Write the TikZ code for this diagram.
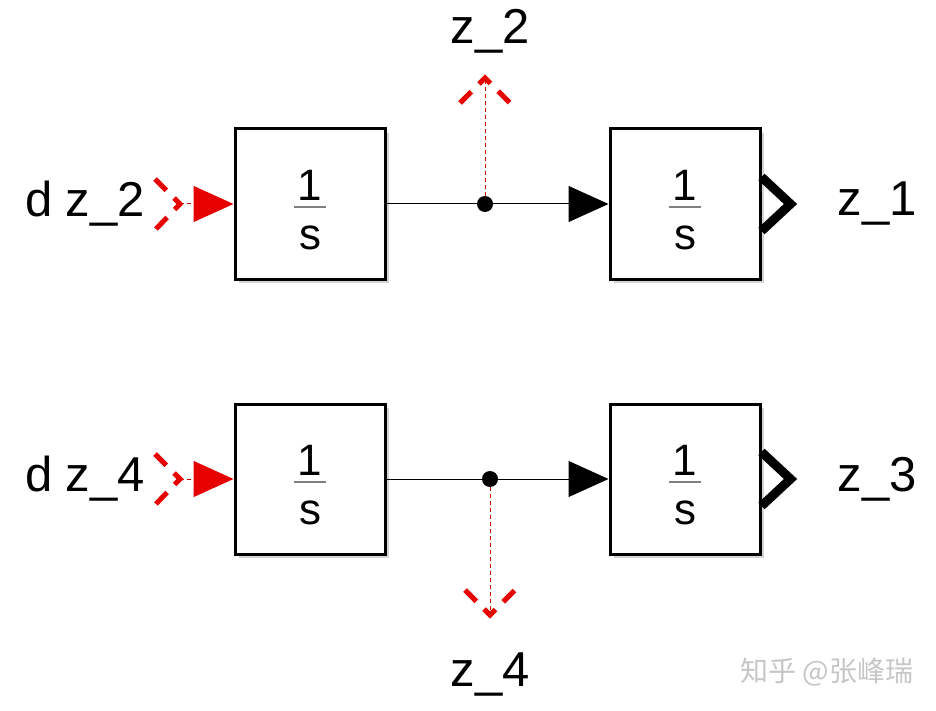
\documentclass[tikz,border=0pt]{standalone}
\usepackage{fontspec}
\setmainfont{Liberation Sans}
\newfontfamily\cjkfont{Noto Sans CJK SC}
\usetikzlibrary{arrows.meta,shadows}
\definecolor{portred}{RGB}{230,0,0}
\definecolor{tapred}{RGB}{200,0,0}

\begin{document}
\begin{tikzpicture}[x=0.5pt,y=-0.5pt,
	block/.style={draw,line width=1.5pt,fill=white,minimum size=75pt,inner sep=0pt,
		drop shadow={opacity=0.35,shadow xshift=2pt,shadow yshift=-2pt}},
	digit/.style={font=\fontsize{22}{26}\selectfont,inner sep=0pt},
	fracbar/.style={gray,line width=0.6pt},
	lab/.style={font=\fontsize{24.5}{28}\selectfont,inner sep=0pt},
	sig/.style={line width=0.5pt,-{Triangle[length=20pt,width=18pt]}},
	inp/.style={tapred,line width=0.5pt,dash pattern=on 2pt off 1.5pt,
		-{Triangle[length=20pt,width=18pt,color=portred,fill=portred]}},
	tap/.style={tapred,line width=0.5pt,dash pattern=on 2pt off 1.5pt},
	portmark/.style={portred,line width=2.5pt,dash pattern=on 8pt off 5.5pt},
	outmark/.style={line width=4.5pt,miter limit=10},
	branch/.style={circle,fill,inner sep=0pt,minimum size=8pt}]
	\useasboundingbox (0,0) rectangle (936,711);
	% blocks
	\path (310,204) node (int1) [block] {}
		  (685,204) node (int2) [block] {}
		  (310,479) node (int3) [block] {}
		  (685,479) node (int4) [block] {};
	% 1/s in each block
	\path (310,185) node [digit] {1} (310,238) node [digit] {s}
		  (685,185) node [digit] {1} (685,238) node [digit] {s}
		  (310,460) node [digit] {1} (310,513) node [digit] {s}
		  (685,460) node [digit] {1} (685,513) node [digit] {s};
	\draw[fracbar] (294,207) -- (326,207);
	\draw[fracbar] (669,207) -- (701,207);
	\draw[fracbar] (294,482) -- (326,482);
	\draw[fracbar] (669,482) -- (701,482);
	% labels
	\path (85,204) node (lin1) [lab] {d z\_2}
		  (85,479) node (lin2) [lab] {d z\_4}
		  (877,204) node (lout1) [lab] {z\_1}
		  (877,479) node (lout2) [lab] {z\_3}
		  (490,31) node (ltap1) [lab] {z\_2}
		  (490,675) node (ltap2) [lab] {z\_4};
	\coordinate (in1) at (180,204);
	\coordinate (in2) at (180,479);
	\coordinate (tp1) at (485,78);
	\coordinate (tp2) at (490,615);
	% signals
	\draw[sig] (int1) -- (int2);
	\draw[sig] (int3) -- (int4);
	\draw[inp] (in1) -- (int1);
	\draw[inp] (in2) -- (int3);
	\path (485,204) node (b1) [branch] {}
		  (490,479) node (b2) [branch] {};
	\draw[tap] (b1) -- (tp1);
	\draw[tap] (b2) -- (tp2);
	% port marks
	\draw[portmark] (in1) ++(-25,-25) -- (in1) -- ++(-25,26);
	\draw[portmark] (in2) ++(-25,-25) -- (in2) -- ++(-25,26);
	\draw[portmark] (tp1) ++(-25,25) -- (tp1) -- ++(25,25);
	\draw[portmark] (tp2) ++(-25,-25) -- (tp2) -- ++(25,-25);
	\draw[outmark] (int2.east) ++(0,-27) -- ++(29,27) -- ++(-29,27);
	\draw[outmark] (int4.east) ++(0,-27) -- ++(29,27) -- ++(-29,27);
	\node (mark) at (827,672) [font=\cjkfont\fontsize{14}{16}\selectfont,text=gray!45] {知乎 @张峰瑞};
\end{tikzpicture}
\end{document}
